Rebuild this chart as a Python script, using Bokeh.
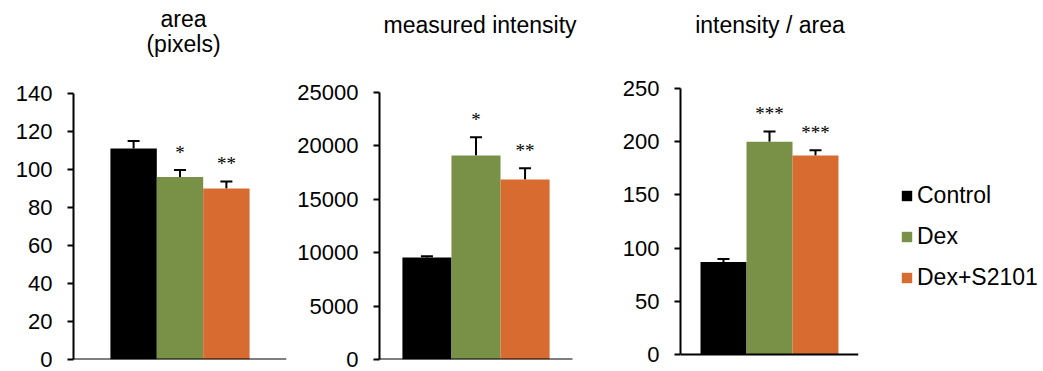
from bokeh.plotting import figure
from bokeh.layouts import row
from bokeh.models import (ColumnDataSource, Range1d, FixedTicker, Label, Legend, LegendItem)
from bokeh.embed import file_html
from bokeh.resources import INLINE

groups = ["Control", "Dex", "Dex+S2101"]
colors = ["#000000", "#789147", "#D86B2F"]

area_vals = [111, 96, 90]
area_err = [4, 3.7, 3.7]
area_stars = ["", "*", "**"]
area_ticks = [0, 20, 40, 60, 80, 100, 120, 140]

int_vals = [9550, 19100, 16850]
int_err = [120, 1700, 1050]
int_stars = ["", "*", "**"]
int_ticks = [0, 5000, 10000, 15000, 20000, 25000]

ratio_vals = [87, 200, 187]
ratio_err = [2.8, 9.5, 5]
ratio_stars = ["", "***", "***"]
ratio_ticks = [0, 50, 100, 150, 200, 250]

FONT = "Liberation Sans"
FRAME_H = 359  # frame spans from top of canvas to bottom axis area


def panel(vals, errs, stars, ticks, titles, title_x, border_left, axis_w, extra_w, border_right,
          zero_px, top_px, gap):
    # vertical: zero value at zero_px, top tick at top_px (from canvas top)
    k = (zero_px - top_px) / (ticks[-1] - ticks[0])
    y_start = ticks[0] - (FRAME_H - zero_px) / k
    y_end = ticks[0] + zero_px / k
    # horizontal: axis spans axis_w px, frame extends extra_w px beyond for titles
    x_start = -0.5 - gap
    upp = (len(vals) + 2 * gap) / axis_w
    x_axis_end = x_start + axis_w * upp
    x_end = x_start + (axis_w + extra_w) * upp
    pos = list(range(len(vals)))
    src = ColumnDataSource(dict(
        x=pos, top=vals, upper=[v + e for v, e in zip(vals, errs)],
        color=colors, stars=stars, label=groups))
    p = figure(frame_width=axis_w + extra_w, frame_height=FRAME_H,
               min_border_left=border_left, min_border_right=border_right,
               min_border_top=0, min_border_bottom=12,
               x_range=Range1d(x_start, x_end),
               y_range=Range1d(y_start, y_end),
               output_backend="svg", toolbar_location=None,
               background_fill_color="white", border_fill_color="white")
    p.outline_line_color = None
    p.xgrid.visible = False
    p.ygrid.visible = False
    p.segment(x0="x", y0="top", x1="x", y1="upper", source=src,
              line_color="black", line_width=2)
    p.scatter(x="x", y="upper", marker="dash", size=12, source=src,
              line_color="black", line_width=2)
    bars = p.vbar(x="x", top="top", bottom=ticks[0], width=1.0, source=src,
                  fill_color="color", line_color=None)
    p.text(x="x", y="upper", text="stars", source=src, text_align="center",
           text_baseline="alphabetic", y_offset=-18, text_font=FONT,
           text_font_size="19px", text_color="black")
    # axes
    p.yaxis.ticker = FixedTicker(ticks=ticks)
    p.yaxis.bounds = (ticks[0], ticks[-1])
    p.yaxis.axis_line_width = 2
    p.yaxis.major_tick_line_width = 2
    p.yaxis.major_tick_in = 0
    p.yaxis.major_tick_out = 6
    p.yaxis.minor_tick_line_color = None
    p.yaxis.major_label_standoff = 15
    p.yaxis.major_label_text_font = FONT
    p.yaxis.major_label_text_font_size = "22px"
    p.yaxis.major_label_text_color = "black"
    p.yaxis.axis_line_color = "black"
    p.yaxis.major_tick_line_color = "black"
    p.xaxis.fixed_location = ticks[0]
    p.xaxis.bounds = (x_start, x_axis_end)
    p.xaxis.ticker = FixedTicker(ticks=[])
    p.xaxis.axis_line_width = 2
    p.xaxis.axis_line_color = "black"
    p.xaxis.major_tick_line_color = None
    p.xaxis.minor_tick_line_color = None
    p.xaxis.major_tick_out = 0
    p.xaxis.major_tick_in = 0
    p.xaxis.major_label_standoff = 0
    p.xaxis.major_label_text_font_size = "0px"
    for txt, cy in titles:
        p.add_layout(Label(x=title_x, y=FRAME_H - cy, x_units="screen", y_units="screen",
                           text=txt, text_align="center", text_baseline="middle",
                           text_font=FONT, text_font_size="23px", text_color="black"))
    return p, bars


p1, _ = panel(area_vals, area_err, area_stars, area_ticks,
              [("area", 18), ("(pixels)", 43)], 110,
              73, 213, 0, 4, 359, 93, 0.796)
p2, _ = panel(int_vals, int_err, int_stars, int_ticks,
              [("measured intensity", 24)], 100.5,
              89, 193, 30, 8, 359, 92, 0.467)
p3, bars3 = panel(ratio_vals, ratio_err, ratio_stars, ratio_ticks,
                  [("intensity / area", 24)], 89.5,
                  70, 178, 0, 185, 354, 88, 0.435)

legend = Legend(items=[LegendItem(label=g, renderers=[bars3], index=i) for i, g in enumerate(groups)],
                location=(42, 68), orientation="vertical", padding=0, margin=0,
                border_line_color=None, background_fill_alpha=0,
                glyph_width=13, glyph_height=13, label_standoff=4,
                label_text_font=FONT, label_text_font_size="23px", label_text_color="black",
                label_height=27, spacing=14)
p3.add_layout(legend, "right")

layout = row(p1, p2, p3, spacing=0)
open("out.html", "w").write(file_html(layout, INLINE))
